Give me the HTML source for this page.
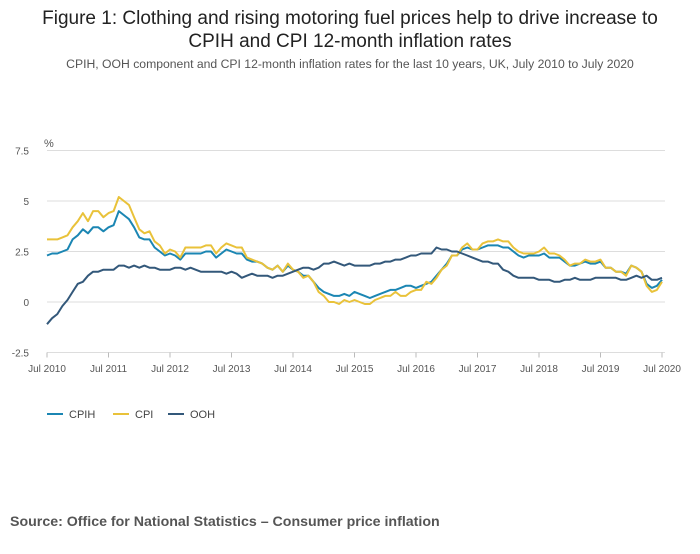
<!DOCTYPE html>
<html><head><meta charset="utf-8"><style>
body{margin:0;background:#fff;font-family:"Liberation Sans",sans-serif;}
</style></head><body>
<div style="position:relative;width:700px;height:549px;">
<svg id="svg" width="700" height="549">
<text x="350" y="24" text-anchor="middle" font-size="19" fill="#222">Figure 1: Clothing and rising motoring fuel prices help to drive increase to</text>
<text x="350" y="47" text-anchor="middle" font-size="19" fill="#222">CPIH and CPI 12-month inflation rates</text>
<text x="350" y="68" text-anchor="middle" font-size="12.2" fill="#555">CPIH, OOH component and CPI 12-month inflation rates for the last 10 years, UK, July 2010 to July 2020</text>
<text x="44" y="147" font-size="11" fill="#555">%</text>
<g id="grid"></g><g id="lines"></g>
<text x="10" y="526" font-size="14.2" font-weight="bold" fill="#555">Source: Office for National Statistics – Consumer price inflation</text>
</svg>
</div>
<script>
const yTicks=[7.5,5,2.5,0,-2.5];
const yTickLabels=["7.5","5","2.5","0","-2.5"];
const xTickLabels=["Jul 2010","Jul 2011","Jul 2012","Jul 2013","Jul 2014","Jul 2015","Jul 2016","Jul 2017","Jul 2018","Jul 2019","Jul 2020"];
const cpih=[2.3,2.4,2.4,2.5,2.6,3.1,
3.3,3.6,3.4,3.7,3.7,3.5,3.7,3.8,4.5,4.3,4.1,3.7,
3.2,3.1,3.1,2.7,2.5,2.3,2.4,2.3,2.1,2.4,2.4,2.4,
2.4,2.5,2.5,2.2,2.4,2.6,2.5,2.4,2.4,2.1,2.0,2.0,
1.9,1.7,1.6,1.8,1.5,1.8,1.6,1.5,1.3,1.3,1.0,0.7,
0.5,0.4,0.3,0.3,0.4,0.3,0.5,0.4,0.3,0.2,0.3,0.4,
0.5,0.6,0.6,0.7,0.8,0.8,0.7,0.8,0.9,1.0,1.3,1.6,
1.9,2.3,2.3,2.6,2.7,2.6,2.6,2.7,2.8,2.8,2.8,2.7,
2.7,2.5,2.3,2.2,2.3,2.3,2.3,2.4,2.2,2.2,2.2,2.0,
1.8,1.8,1.9,2.0,1.9,1.9,2.0,1.7,1.7,1.5,1.5,1.4,
1.8,1.7,1.5,0.9,0.7,0.8,1.1];
const cpi=[3.1,3.1,3.1,3.2,3.3,3.7,
4.0,4.4,4.0,4.5,4.5,4.2,4.4,4.5,5.2,5.0,4.8,4.2,
3.6,3.4,3.5,3.0,2.8,2.4,2.6,2.5,2.2,2.7,2.7,2.7,
2.7,2.8,2.8,2.4,2.7,2.9,2.8,2.7,2.7,2.2,2.1,2.0,
1.9,1.7,1.6,1.8,1.5,1.9,1.6,1.5,1.2,1.3,1.0,0.5,
0.3,0.0,0.0,-0.1,0.1,0.0,0.1,0.0,-0.1,-0.1,0.1,0.2,
0.3,0.3,0.5,0.3,0.3,0.5,0.6,0.6,1.0,0.9,1.2,1.6,
1.8,2.3,2.3,2.7,2.9,2.6,2.6,2.9,3.0,3.0,3.1,3.0,
3.0,2.7,2.5,2.4,2.4,2.4,2.5,2.7,2.4,2.4,2.3,2.1,
1.8,1.9,1.9,2.1,2.0,2.0,2.1,1.7,1.7,1.5,1.5,1.3,
1.8,1.7,1.5,0.8,0.5,0.6,1.0];
const ooh=[-1.1,-0.8,-0.6,-0.2,0.1,0.5,
0.9,1.0,1.3,1.5,1.5,1.6,1.6,1.6,1.8,1.8,1.7,1.8,
1.7,1.8,1.7,1.7,1.6,1.6,1.6,1.7,1.7,1.6,1.7,1.6,
1.5,1.5,1.5,1.5,1.5,1.4,1.5,1.4,1.2,1.3,1.4,1.3,
1.3,1.3,1.2,1.3,1.3,1.4,1.5,1.6,1.7,1.7,1.6,1.7,
1.9,1.9,2.0,1.9,1.8,1.9,1.8,1.8,1.8,1.8,1.9,1.9,
2.0,2.0,2.1,2.1,2.2,2.3,2.3,2.4,2.4,2.4,2.7,2.6,
2.6,2.5,2.5,2.4,2.3,2.2,2.1,2.0,2.0,1.9,1.9,1.6,
1.5,1.3,1.2,1.2,1.2,1.2,1.1,1.1,1.1,1.0,1.0,1.1,
1.1,1.2,1.1,1.1,1.1,1.2,1.2,1.2,1.2,1.2,1.1,1.1,
1.2,1.3,1.2,1.3,1.1,1.1,1.2];
const seriesNames=["CPIH","CPI","OOH"];
const ns="http://www.w3.org/2000/svg";
const X0=47,X1=662,Y0=302,PU=20.2;
const xs=i=>X0+(X1-X0)*i/120;
const ys=v=>Y0-v*PU;
const grid=document.getElementById('grid'),lines=document.getElementById('lines');
function mk(t,a,p){const e=document.createElementNS(ns,t);for(const k in a)e.setAttribute(k,a[k]);p.appendChild(e);return e;}
yTicks.forEach((v,i)=>{
 const l=mk('line',{x1:X0,x2:665,y1:ys(v),y2:ys(v),stroke:'#ddd','stroke-width':1},grid);
 
 
 const t=mk('text',{x:29,y:ys(v)+4,'text-anchor':'end','font-size':10,fill:'#555'},grid);
 t.textContent=yTickLabels[i];
 
 
});
xTickLabels.forEach((s,i)=>{
 const x=xs(i*12);
 const tk=mk('line',{x1:x,x2:x,y1:ys(-2.5),y2:ys(-2.5)+5,stroke:'#bbb'},grid);
 
 
 const t=mk('text',{x:x,y:372,'text-anchor':'middle','font-size':10,fill:'#555'},grid);
 t.textContent=s;
 
 
});
const colors=["#1b86b3","#e9c23a","#33587a"];
[cpih,cpi,ooh].forEach((arr,si)=>{
 const d=arr.map((v,i)=>(i?'L':'M')+xs(i).toFixed(1)+','+ys(v).toFixed(1)).join('');
 const p=mk('path',{d:d,fill:'none',stroke:colors[si],'stroke-width':2,'stroke-linejoin':'round'},lines);
 
 
 const lx=[47,113,168][si];
 const ll=mk('line',{x1:lx,x2:lx+16,y1:414,y2:414,stroke:colors[si],'stroke-width':2},lines);
 
 
 const lt=mk('text',{x:lx+22,y:418,'font-size':11,fill:'#444'},lines);
 lt.textContent=seriesNames[si];
 
 
});
</script>
</body></html>
